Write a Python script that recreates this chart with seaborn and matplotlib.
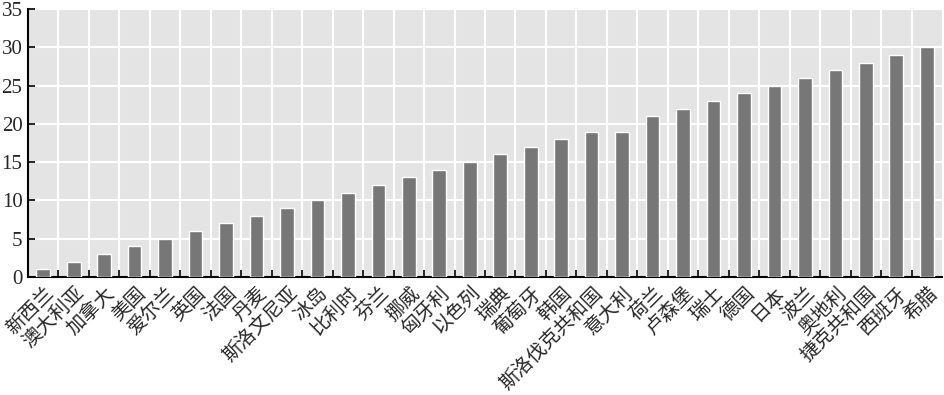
import matplotlib
matplotlib.use("Agg")
import matplotlib.pyplot as plt
import seaborn as sns
import pandas as pd
import numpy as np

countries = ["新西兰", "澳大利亚", "加拿大", "美国", "爱尔兰", "英国", "法国", "丹麦",
             "斯洛文尼亚", "冰岛", "比利时", "芬兰", "挪威", "匈牙利", "以色列", "瑞典",
             "葡萄牙", "韩国", "斯洛伐克共和国", "意大利", "荷兰", "卢森堡", "瑞士", "德国",
             "日本", "波兰", "奥地利", "捷克共和国", "西班牙", "希腊"]
values = [1, 2, 3, 4, 5, 6, 7, 8, 9, 10, 11, 12, 13, 14, 15, 16, 17, 18, 19, 19,
          21, 22, 23, 24, 25, 26, 27, 28, 29, 30]
yticks = [0, 5, 10, 15, 20, 25, 30, 35]

sns.set_theme(style="white")
plt.rcParams['font.family'] = ['Liberation Serif', 'Noto Sans CJK SC', 'DejaVu Sans']

df = pd.DataFrame({"country": countries, "value": values})

fig = plt.figure(figsize=(9.44, 3.95), dpi=100)
ax = fig.add_axes([28/944, (395-277)/395, (942-28)/944, (277-9)/395])
ax.set_facecolor("#e4e4e4")

sns.barplot(data=df, x="country", y="value", color="#777777", width=0.45,
            saturation=1, ax=ax, zorder=3)

ax.set_xlim(-0.5, len(countries) - 0.5)
ax.set_ylim(0, 35)
ax.set_yticks(yticks)
ax.set_yticklabels([str(t) for t in yticks], fontsize=15, family='Liberation Serif')
ax.set_xticks(np.arange(len(countries)))
ax.set_xticklabels(countries, rotation=45, ha='right', rotation_mode='anchor',
                   fontsize=14, family=['Noto Sans CJK SC', 'DejaVu Sans'])
ax.set_xticks(np.arange(len(countries) - 1) + 0.5, minor=True)

ax.set_xlabel("")
ax.set_ylabel("")

ax.grid(False)
ax.yaxis.grid(True, color="white", linewidth=1.5, zorder=1)
ax.xaxis.grid(True, which='minor', color="white", linewidth=1.5, zorder=1)
ax.set_axisbelow(True)

for s in ["top", "right"]:
    ax.spines[s].set_visible(False)
for s in ["left", "bottom"]:
    ax.spines[s].set_visible(True)
    ax.spines[s].set_color("black")
    ax.spines[s].set_linewidth(1.5)

ax.tick_params(axis='x', which='major', length=0, pad=4)
ax.tick_params(axis='x', which='minor', direction='in', length=5, width=1.2, color='black', bottom=True)
ax.tick_params(axis='y', which='major', direction='in', length=5, width=1.2, color='black', left=True, pad=4)

fig.savefig("out.png", dpi=100)
